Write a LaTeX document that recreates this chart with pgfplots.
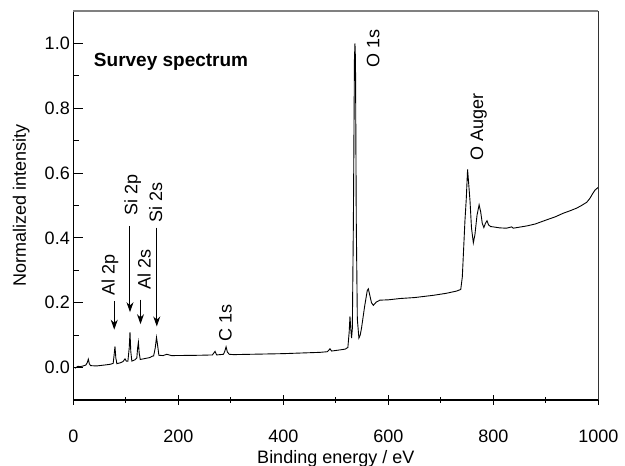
\documentclass[border=0pt]{standalone}
\usepackage{pgfplots}
\pgfplotsset{compat=1.18}
\usepackage{fontspec}
\setmainfont{Liberation Sans}
\usetikzlibrary{arrows.meta}
\begin{document}
\begin{tikzpicture}
\begin{axis}[
  name=ax,
  scale only axis,
  width=525pt, height=389pt,
  xmin=0, xmax=1000, ymin=-0.1, ymax=1.1,
  axis x line*=bottom, axis y line*=left,
  axis line style={black, line width=1.2pt},
  xtick={0,200,...,1000},
  ytick={0,0.2,...,1.0},
  minor x tick num=1, minor y tick num=1,
  xtick align=center, ytick align=inside,
  major tick length=10pt, minor tick length=6pt,
  every tick/.style={black, line width=1.1pt},
  /pgf/number format/assume math mode=true,
  /pgf/number format/set thousands separator={},
  yticklabel style={/pgf/number format/fixed, /pgf/number format/fixed zerofill, /pgf/number format/precision=1},
  tick label style={font=\fontsize{18}{21}\selectfont},
  xticklabel style={anchor=base, yshift=-38pt},
  label style={font=\fontsize{18}{21}\selectfont},
  xlabel={Binding energy / eV},
  ylabel={Normalized intensity},
  xlabel style={at={(axis description cs:0.5,-0.162)}, anchor=base},
  ylabel style={at={(axis description cs:-0.099,0.5)}, anchor=center},
  clip=false,
]
\addplot[black, line width=0.9pt] coordinates {
(3.2,-0.002) (9,0.004) (13,0.003) (19,0.005) (24,0.008) (26.5,0.015) (28.6,0.026) (30.5,0.012) (33,0.006)
(44,0.005) (60,0.008) (70,0.010) (76,0.013) (77.8,0.04) (79.4,0.065) (81,0.03) (83,0.012) (90,0.015)
(95,0.019) (98.5,0.027) (101,0.02) (104,0.02) (106.5,0.06) (108,0.109) (109.5,0.05) (111.5,0.02)
(117.5,0.024) (121,0.03) (122.5,0.06) (124,0.078) (125.5,0.045) (127.5,0.025) (140,0.029) (146,0.031)
(150,0.035) (153,0.036) (156,0.06) (158.5,0.093) (160.5,0.07) (163,0.038) (171,0.037) (178,0.041)
(187,0.037) (241,0.038) (265,0.039) (270,0.05) (273,0.039) (286,0.041) (288.5,0.05) (291,0.064)
(293.5,0.048) (297,0.041) (305,0.04) (337,0.041) (400,0.043) (470,0.047) (484,0.049) (489,0.058)
(492,0.051) (510,0.055) (518,0.057) (523,0.062) (525.5,0.11) (527,0.158) (528.5,0.12) (530,0.091)
(531.5,0.12) (533.5,0.45) (535.5,0.95) (536.5,1.0) (537.5,0.95) (539,0.45) (541,0.15) (544,0.091)
(546.5,0.1) (549,0.122) (555,0.19) (560,0.238) (562,0.243) (564.5,0.225) (568,0.2) (571.5,0.192)
(577,0.202) (584,0.208) (600,0.209) (622,0.213) (650,0.216) (686,0.223) (710,0.229) (730,0.236)
(738,0.241) (741,0.28) (743,0.349) (746,0.453) (748.5,0.52) (751,0.611) (753,0.57) (755.6,0.515)
(758.5,0.43) (762,0.385) (765,0.41) (769,0.47) (773,0.502) (776,0.48) (779,0.445) (782,0.432)
(785,0.445) (788,0.453) (791,0.44) (795,0.435) (800,0.434) (812,0.431) (825,0.43) (835,0.434)
(838,0.43) (864,0.437) (880,0.443) (902,0.456) (918,0.465) (933,0.476) (945,0.483) (959,0.492)
(968,0.5) (978,0.51) (984,0.522) (989,0.536) (994,0.548) (1000,0.556)
};
% frame top and right
\draw[gray, line width=1.2pt] (rel axis cs:0,1) -- (rel axis cs:1,1);
\draw[black!80, line width=1.2pt] (rel axis cs:1,0) -- (rel axis cs:1,1);
% annotations
\node[anchor=west, inner sep=0pt, font=\fontsize{19}{22}\selectfont\bfseries] at (axis cs:39,0.943) {Survey spectrum};
\begin{scope}[every node/.style={rotate=90, anchor=center, inner sep=0pt, font=\fontsize{18}{21}\selectfont}]
\node at (axis cs:70,0.287) {Al 2p};
\node at (axis cs:113,0.533) {Si 2p};
\node at (axis cs:135,0.303) {Al 2s};
\node at (axis cs:157,0.509) {Si 2s};
\node at (axis cs:290,0.137) {C 1s};
\node at (axis cs:571,0.983) {O 1s};
\node at (axis cs:772,0.741) {O Auger};
\end{scope}
\begin{scope}[line width=1pt, -{Stealth[length=10pt,width=7pt]}]
\draw (axis cs:78,0.205) -- (axis cs:78,0.117);
\draw (axis cs:108,0.437) -- (axis cs:108,0.171);
\draw (axis cs:128,0.21) -- (axis cs:128,0.134);
\draw (axis cs:159,0.432) -- (axis cs:159,0.127);
\end{scope}
\end{axis}
\pgfresetboundingbox
\path ([xshift=-73.3pt,yshift=-66pt]ax.south west) rectangle ([xshift=26.7pt,yshift=11pt]ax.north east);
\end{tikzpicture}
\end{document}
